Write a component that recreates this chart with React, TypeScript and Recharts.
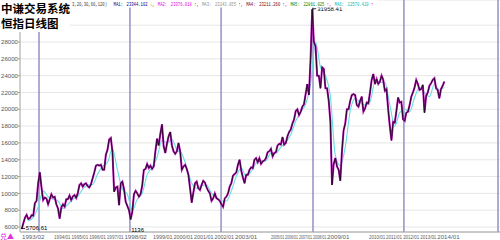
import React from 'react';
import { LineChart, Line, XAxis, YAxis, CartesianGrid, ReferenceLine, ReferenceDot } from 'recharts';

// Monthly Hang Seng index levels, Feb 1993 .. Jun 2014
const startYear = 1993;
const startMonth = 2;
const closeValues = [
  5750, 6450, 7100, 7450, 6950, 7050, 7400, 7350, 8850, 9100, 11250,
  12500, 10700, 9200, 9500, 9400, 8700, 9300, 9900, 9500, 9600, 8700, 8200,
  7000, 8300, 8700, 8400, 9300, 9300, 9750, 9200, 9650, 9800, 9450, 10050,
  11000, 11200, 10800, 11100, 11200, 10850, 10700, 11100, 11800, 12500, 13300, 13400,
  13300, 13400, 12800, 12800, 14600, 15200, 16400, 16600, 14900, 10200, 10700, 10800,
  8600, 11200, 11400, 10500, 9000, 8500, 8000, 6900, 7800, 9900, 10300, 10000,
  9600, 9900, 10900, 12800, 12900, 13500, 13000, 13300, 12900, 13200, 15000, 16500,
  15700, 17100, 18200, 15600, 14800, 15900, 16800, 17300, 15700, 15000, 14700, 15000,
  16000, 15000, 12800, 13200, 13400, 12900, 12200, 10600, 8900, 10100, 11200, 11400,
  10600, 10400, 11000, 11500, 11300, 10700, 10300, 10000, 9100, 9400, 10000, 9400,
  9300, 9100, 8700, 8400, 9400, 9600, 10000, 10800, 11200, 12100, 12300, 12500,
  13400, 14000, 12700, 11900, 11200, 12200, 12200, 12800, 13100, 13000, 14000, 14200,
  13700, 14200, 13500, 13800, 13900, 14200, 14900, 15000, 15300, 14400, 14800, 14900,
  15700, 15900, 15800, 16700, 15800, 16000, 16800, 17300, 17600, 18300, 18800, 19800,
  20000, 19300, 19700, 20300, 20600, 21800, 23000, 21700, 26000, 31900, 28000, 27500,
  24000, 24000, 22500, 25000, 24800, 22500, 22500, 21000, 18500, 11000, 13500, 14200,
  13200, 12800, 11500, 15000, 17500, 18300, 20000, 20000, 21000, 21700, 21800, 21700,
  20500, 20300, 21000, 21500, 19700, 20100, 20800, 20700, 22000, 23500, 24200, 23000,
  23600, 23000, 23300, 24000, 23500, 22200, 22400, 20000, 18000, 16300, 18500, 18400,
  19800, 21400, 20800, 20900, 18800, 18600, 19600, 19700, 20500, 21500, 22000, 22600,
  23500, 23000, 22300, 22400, 22900, 19600, 21600, 22000, 22800, 23100, 23500, 23700,
  22500, 22300, 21300, 22400, 22800, 23300,
];

// Moving average (cyan), quarterly readings: Jun 1993 .. Jun 2014
const maValues = [
  6700, 7150, 8400,
  10300, 9600, 9300, 9100,
  8200, 8700, 9300, 9650,
  10500, 11000, 11050, 12300,
  13200, 13700, 15300, 12800,
  10500, 9900, 8000, 9300,
  10000, 12200, 13100, 14300,
  16300, 16000, 16400, 15200,
  14700, 13100, 11200, 10600,
  10900, 11000, 10000, 9600,
  9100, 9100, 10300, 12000,
  13000, 12000, 12600, 13600,
  13900, 13900, 14800, 14800,
  15500, 16100, 17000, 18600,
  19700, 20600, 23000, 28000,
  25000, 24000, 21500, 14500,
  13300, 15500, 19800, 21300,
  20800, 20500, 20900, 23200,
  23200, 23200, 20500, 18000,
  19600, 20000, 19700, 21400,
  22600, 22000, 21500, 23000,
  22300, 22600,
];

const yTicks = [6000, 8000, 10000, 12000, 14000, 16000, 18000, 20000, 22000, 24000, 26000, 28000, 30000];
const yLabelMax = 28000; // the 30000 label sits under the title box

const xTickValues = [
  1993.14,
  1994.76, 1995.64, 1996.53, 1997.42, 1998.31,
  1999.75, 2000.79, 2001.82, 2002.86, 2003.89,
  2005.71, 2006.42, 2007.12, 2007.83, 2008.54,
  2010.66, 2011.52, 2012.38, 2013.24, 2014.10,
];
const xTickLabels = [
  '1993/02',
  '1994/01', '1995/01', '1996/01', '1997/01', '1998/02',
  '1999/01', '2000/01', '2001/01', '2002/01', '2003/01',
  '2005/01', '2006/01', '2007/01', '2008/01', '2009/01',
  '2010/01', '2011/01', '2012/01', '2013/01', '2014/01',
];

const separatorDates = [1994.0, 1998.59, 2003.19, 2007.83, 2012.42, 2017.17];

const highDate = 2007.79;
const highValue = 31958.41;
const lowDate = 1993.1;
const lowValue = 5706.61;
const low2Date = 1998.6;
const low2Value = 6200;
const low2Text = '1136';

const titleLines = ['中谦交易系统', '恒指日线图'];
const headerPrefix = '3,20,30,60,120)';
const maNames = ['MA1', 'MA2', 'MA3', 'MA4', 'MA5', 'MA6'];
const maReadings = ['23344.102', '23376.018', '23243.855', '23211.260', '22861.025', '22570.420'];
const maArrows = ['↓', '↑', '↑', '↑', '↑', '↑'];
const maColors = ['#000080', '#e000e0', '#909090', '#800000', '#008000', '#00b8b8'];

const FONT = 'Liberation Sans, Arial, sans-serif';
const MONO = 'Liberation Mono, DejaVu Sans Mono, monospace';

const X_DOMAIN: [number, number] = [1993.04, 2017.27];
const PLOT_LEFT = 20;
const PLOT_W = 480;

const data = closeValues.map((v, i) => {
  const m = startMonth - 1 + i;
  const year = startYear + Math.floor(m / 12);
  const month = m % 12;
  const row: any = { t: year + (month + 0.5) / 12, close: v };
  if (i >= 4 && (i - 4) % 3 === 0) {
    const k = (i - 4) / 3;
    if (k < maValues.length) row.ma = maValues[k];
  }
  return row;
});

// header pieces laid out on a fixed character grid
type Piece = { text: string; color: string; col: number };
const headerPieces: Piece[] = (() => {
  const out: Piece[] = [];
  let col = 0;
  const push = (text: string, color: string) => {
    out.push({ text, color, col });
    col += text.length;
  };
  push(headerPrefix, '#404040');
  col += 1;
  maNames.forEach((n, i) => {
    push(n + ':', maColors[i]);
    col += 1;
    push(maReadings[i], maColors[i]);
    push(maArrows[i] + (i < maNames.length - 1 ? ',' : ''), maArrows[i] === '↑' ? '#e00000' : '#00a000');
    if (i < maNames.length - 1) col += 1;
  });
  return out;
})();
const HEADER_X = 72;
const CHAR_W = 2.6;

const pxOf = (t: number) => PLOT_LEFT + ((t - X_DOMAIN[0]) / (X_DOMAIN[1] - X_DOMAIN[0])) * PLOT_W;

const X_LABEL_FS = 6.2;
const X_LABEL_EM = 3.62; // width of "1994/01" in em (Liberation Sans)

const XTick = (props: any) => {
  const { x, payload } = props;
  const idx = xTickValues.indexOf(payload.value);
  if (idx < 0) return null;
  let room = 30;
  if (idx < xTickValues.length - 1) {
    room = pxOf(xTickValues[idx + 1]) - pxOf(xTickValues[idx]) - 0.8;
  }
  const fs = Math.min(X_LABEL_FS, room / X_LABEL_EM);
  return (
    <text
      transform={`translate(${x},238.5) scale(1,${X_LABEL_FS / fs})`}
      x={0}
      y={0}
      fontSize={fs}
      fill="#606060"
      textAnchor="start"
      fontFamily={FONT}
    >
      {xTickLabels[idx]}
    </text>
  );
};

const YTick = (props: any) => {
  const { y, payload } = props;
  if (payload.value > yLabelMax) return null;
  return (
    <text x={18} y={y + 2.2} fontSize={6.1} fill="#555" textAnchor="end" fontFamily={FONT}>
      {payload.value}
    </text>
  );
};

const HighMark = (props: any) => {
  const { cx, cy } = props;
  return (
    <g>
      <path d={`M${cx} ${cy} H${cx + 4}`} stroke="#000" strokeWidth={0.8} />
      <text x={cx + 5} y={cy + 2.2} fontSize={6} fill="#000" fontFamily={FONT}>{highValue.toFixed(2)}</text>
    </g>
  );
};

const LowMark = (props: any) => {
  const { cx, cy } = props;
  return (
    <g>
      <path d={`M${cx} ${cy - 1} H${cx + 4}`} stroke="#000" strokeWidth={0.8} />
      <text x={cx + 4.5} y={cy + 1} fontSize={6} fill="#000" fontFamily={FONT}>{lowValue.toFixed(2)}</text>
    </g>
  );
};

const Low2Mark = (props: any) => {
  const { cx, cy } = props;
  return (
    <text x={cx + 1} y={cy + 7} fontSize={6} fill="#000" fontFamily={FONT}>{low2Text}</text>
  );
};

export default function App() {
  return (
    <div style={{ position: 'absolute', left: 0, top: 0, width: 500, height: 240, background: '#fff', overflow: 'hidden' }}>
      <LineChart width={500} height={240} data={data} margin={{ top: 0, right: 0, bottom: 0, left: 0 }}>
        <CartesianGrid vertical={false} stroke="#e6e6e6" strokeWidth={1} />
        <XAxis
          type="number"
          dataKey="t"
          domain={X_DOMAIN}
          ticks={xTickValues}
          interval={0}
          tick={<XTick />}
          tickLine={false}
          axisLine={{ stroke: '#a0a0a0' }}
          height={8}
          allowDataOverflow
        />
        <YAxis
          type="number"
          domain={[5405, 33000]}
          ticks={yTicks}
          interval={0}
          width={20}
          tickSize={2}
          tickLine={{ stroke: '#a0a0a0' }}
          axisLine={{ stroke: '#a0a0a0' }}
          tick={<YTick />}
          allowDataOverflow
        />
        {separatorDates.map((d, i) => (
          <ReferenceLine key={i} x={d} stroke="#8a8ac0" strokeWidth={1.4} />
        ))}
        <Line type="monotone" dataKey="ma" stroke="#66dede" strokeWidth={1.1} dot={false} connectNulls isAnimationActive={false} />
        <Line type="linear" dataKey="close" stroke="#b818b8" strokeWidth={2.0} dot={false} isAnimationActive={false} />
        <Line type="linear" dataKey="close" stroke="#2a062a" strokeWidth={1.0} dot={false} isAnimationActive={false} />
        <ReferenceDot x={highDate} y={highValue} r={0} shape={<HighMark />} />
        <ReferenceDot x={lowDate} y={lowValue} r={0} shape={<LowMark />} />
        <ReferenceDot x={low2Date} y={low2Value} r={0} shape={<Low2Mark />} />
      </LineChart>
      <svg width={500} height={240} style={{ position: 'absolute', left: 0, top: 0, pointerEvents: 'none' }}>
        <rect x={0} y={0} width={70} height={32} fill="#fff" />
        <text x={1} y={13} fontSize={11.5} fontWeight="bold" fill="#000" fontFamily="Noto Sans CJK SC, sans-serif">{titleLines[0]}</text>
        <text x={1} y={28} fontSize={11.5} fontWeight="bold" fill="#000" fontFamily="Noto Sans CJK SC, sans-serif">{titleLines[1]}</text>
        <rect x={71} y={0} width={306} height={7.5} fill="#fff" />
        {headerPieces.map((p, i) => (
          <text
            key={i}
            transform={`translate(${HEADER_X + p.col * CHAR_W},6) scale(1,1.35)`}
            x={0}
            y={0}
            fontSize={3.9}
            fill={p.color}
            fontFamily={MONO}
          >
            {p.text}
          </text>
        ))}
        <text x={0} y={238.5} fontSize={7} fill="#e030e0" fontFamily="Noto Sans CJK SC, sans-serif">兑▲</text>
      </svg>
    </div>
  );
}
